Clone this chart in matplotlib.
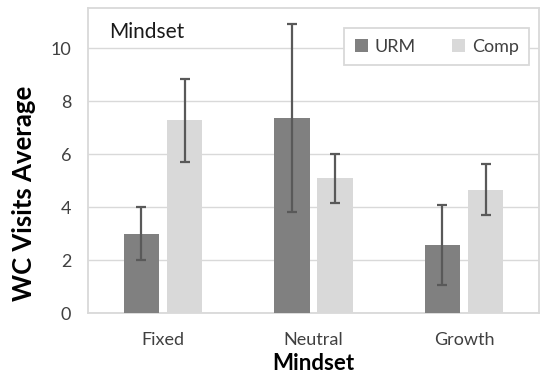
import numpy as np
import matplotlib
matplotlib.use('Agg')
import matplotlib.pyplot as plt

categories = ['Fixed', 'Neutral', 'Growth']
urm_mean = [3.0, 7.35, 2.57]
urm_err = [1.0, 3.54, 1.52]
comp_mean = [7.27, 5.09, 4.66]
comp_err = [1.56, 0.92, 0.95]
yticks = [0, 2, 4, 6, 8, 10]

plt.rcParams['font.family'] = ['Lato', 'DejaVu Sans']

fig = plt.figure(figsize=(5.45, 3.75), dpi=100)
ax = fig.add_axes([0.161, 0.1653, 0.8285, 0.8127])

x = np.arange(len(categories))
w = 0.236
off = 0.143
errkw = dict(ecolor='#595959', elinewidth=1.6, capsize=3.6, capthick=1.6)
ax.bar(x - off, urm_mean, w, yerr=urm_err, color='#808080', label='URM', error_kw=errkw, zorder=3)
ax.bar(x + off, comp_mean, w, yerr=comp_err, color='#d9d9d9', label='Comp', error_kw=errkw, zorder=3)

ax.set_xlim(-0.5, 2.5)
ax.set_ylim(0, 11.5)
ax.set_yticks(yticks)
ax.set_xticks(x)
ax.set_xticklabels(categories)
ax.yaxis.grid(True, color='#d9d9d9', linewidth=1.0, zorder=0)
ax.set_axisbelow(True)
for s in ax.spines.values():
    s.set_color('#d9d9d9')
    s.set_linewidth(1.3)
ax.tick_params(axis='both', length=0, labelsize=13, colors='#404040')
ax.tick_params(axis='x', pad=14)
ax.tick_params(axis='y', pad=12)

ax.set_xlabel('Mindset', fontsize=16, fontweight='bold', labelpad=3)
ax.set_ylabel('WC Visits Average', fontsize=18.5, fontweight='bold', labelpad=9)
ax.yaxis.set_label_coords(-0.115, 0.394)
ax.text(0.047, 0.923, 'Mindset', transform=ax.transAxes, fontsize=15, color='#1a1a1a', va='center')

leg = ax.legend(loc='upper right', bbox_to_anchor=(0.978, 0.936), borderaxespad=0, ncol=2,
                fontsize=13, fancybox=False, edgecolor='#d9d9d9', framealpha=1,
                handlelength=0.75, handleheight=0.75, handletextpad=0.35, columnspacing=2.0,
                borderpad=0.6)
leg.get_frame().set_linewidth(1.3)
for t in leg.get_texts():
    t.set_color('#404040')

fig.savefig('out.png', dpi=100)
